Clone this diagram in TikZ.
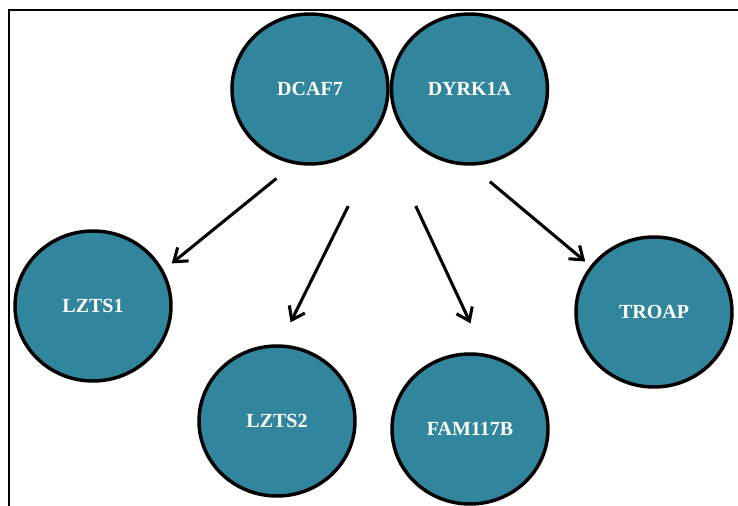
\documentclass[tikz,border=0pt]{standalone}
\usepackage{fontspec}
\setmainfont{Liberation Serif}
\usetikzlibrary{shapes.geometric, arrows.meta, positioning}
\definecolor{ppiTeal}{HTML}{31859C}
\definecolor{ppiInk}{HTML}{000000}

\begin{document}
\begin{tikzpicture}[x=0.75pt, y=-0.75pt, font=\fontsize{15}{18}\selectfont\bfseries,
        prot/.style={ellipse, draw=ppiInk, line width=2.6pt, fill=ppiTeal, text=white, minimum width=117pt, minimum height=112.5pt, inner sep=0pt},
        link/.style={-{Straight Barb[length=9pt, width=13pt]}, ppiInk, line width=2.3pt},
        frame/.style={ppiInk, line width=1.6pt}]
        \useasboundingbox (0,0) rectangle (738,506);
        \draw[frame] (9,506) -- (9,10) -- (738,10);
        \node[prot] (dcaf7) at (310,89) {DCAF7};
        \node[prot, right=0pt of dcaf7] (dyrk1a) {DYRK1A};
        \node[prot] (lzts1) at (93,306) {LZTS1};
        \node[prot] (lzts2) at (277,421) {LZTS2};
        \node[prot] (fam117b) at (470,429) {FAM117B};
        \node[prot] (troap) at (654,312) {TROAP};
        \coordinate (hub) at (383,136);
        \draw[link, shorten <=17pt, shorten >=8pt] (dcaf7.258) -- (lzts1.27);
        \draw[link, shorten <=58.7pt, shorten >=18.4pt] (hub) -- (lzts2.88);
        \draw[link, shorten <=58pt, shorten >=25pt] (hub) -- (fam117b.79);
        \draw[link, shorten <=18.6pt, shorten >=5pt] (dyrk1a.271) -- (troap.144);
      \end{tikzpicture}
\end{document}
